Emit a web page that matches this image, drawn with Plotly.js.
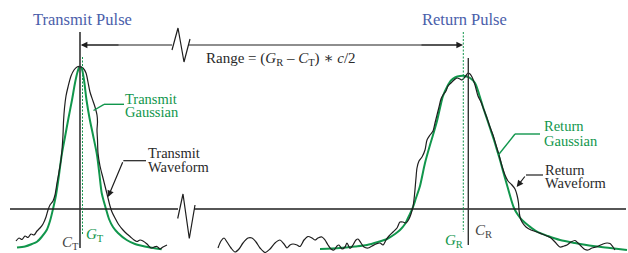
<!DOCTYPE html>
<html>
<head>
<meta charset="utf-8">
<script src="https://cdn.plot.ly/plotly-3.0.1.min.js"></script>
<style>html,body{margin:0;padding:0;background:#fff;}#chart{width:628px;height:253px;}</style>
</head>
<body>
<div id="chart"></div>
<script>
// ---- data (in diagram units: x to the right, y downward) ----
const transmitWaveX = [16,19,22,25,28,31,34,37,40,43,46,48,50,53,55,57,59,61,62,63,63.5,64.5,66,68,71,74,77,80,83,86,88,90,93,95,97,97.5,97,97.5,98,100,103,106,108,110,112,115,119,123,127,130,134,137,140,143,147,151,154,157,160,163,167];
const transmitWaveY = [241,238,239.5,236,237.5,234,235,231,228,224,217,210,205,201,195,183,172,160,150,135,122,108,96,87,76,70,67,66.5,68,73,82,92,101,107,115,122,130,140,153,166,178,190,198,206,212,218,225,230,234,236.5,240,241.5,240,241,244,248,247,246.5,249,247,245];

const transmitGaussX = [17,25,32,37,42,46.7,50,53,56,59,61.7,65,68.5,72,75,77.5,79.5,81.5,84,86.5,89.5,93,97,99.5,101.7,104,106,109,113,118,126.7,135,150,161.7];
const transmitGaussY = [247.5,246.5,244,241.7,236.5,230,221,209,195,175,155,137,118,100,83,72,67,68,80,100,118,135,155,175,193,202,209,219,227,233,240,244,247.5,249.3];

const returnWaveX = [218,221,224,227,231,235,239,243,248,252,256,260,265,270,275,280,284,287,290,293,297,300,304,308,312,315,318,322,325,328,331,334,337,339,342,345,347,350,353,356,358,361,364,368,372,376,380,383,386,389,393,397,400,403,406,409,411,413,414.5,416,417,419,422,425,427,430,433,435,437,439,441,443,446,448,451,454,457,460,462,465,468,470,472,475,478,481,484,487,490,493,496,499,502,505,508,512,515,517,518.5,519,520,522,526,531,537,542,547,551,555,560,564,567,571,575,578,581,585,588,592,597,603,607,610,613,615];
const returnWaveY = [248,241,238,242,248,252,249,243,238,238,242,248,252.5,249,243,240,244,248,245,244,245,246.5,240,236.5,238,240,238,237,240,245,249,250,246,245,249,247,243,248.5,245,240,239,243,247,248,246,244,243,245,240,236,232,228,222,222,223,219,214,207,195,178,168,161,157,150,140,135,131,123,115,107,99,95,91,86,83,80,78,79,80,77,73,74,77,85,96,102,110,118,127,135,145,155,166,175,181,185,189,195,203,210,217,222,227,230,232,234,236,238,242,247,246,245,242,240.5,243,246,249.5,250,248,246.7,244,243,243.5,247,250];

const returnGaussX = [320,340,355,367,378,387,395,400,405,408,413,416,420,425,430,433,437,440,443,447,451,455,460,465,470,475,479,483,487,490,494,497,500,503,507,511,514,518,522,529,537,548,560,575,593,610,627];
const returnGaussY = [249,248,246.5,245,242,239,234,230,224,218,207,198,186,163,145,135,121,108,96,87,80.5,77.5,76,76,78,83,94,107,119,128,140,150,160,171,185,199,208,215,220,226,231.7,236,240,243,246,248,250];

// marker positions (diagram units)
const cT = 80, gT = 82.5, gR = 463.3, cR = 468.3;
const baseY = 209, rangeY = 45;

// ---- styles ----
const GREEN = '#11964c', BLUE = '#4a5eaa', INK = '#1e1e1e', TXT = '#2a2a2a';
const SERIF = '"Liberation Serif", "DejaVu Serif", serif';

const traces = [
  {x: transmitGaussX, y: transmitGaussY, mode: 'lines', line: {color: GREEN, width: 2, shape: 'spline', smoothing: 0.8}, hoverinfo: 'skip'},
  {x: returnGaussX, y: returnGaussY, mode: 'lines', line: {color: GREEN, width: 2, shape: 'spline', smoothing: 0.8}, hoverinfo: 'skip'},
  {x: transmitWaveX, y: transmitWaveY, mode: 'lines', line: {color: INK, width: 1.2, shape: 'spline', smoothing: 0.8}, hoverinfo: 'skip'},
  {x: returnWaveX, y: returnWaveY, mode: 'lines', line: {color: INK, width: 1.2, shape: 'spline', smoothing: 0.8}, hoverinfo: 'skip'}
];

function seg(x0, y0, x1, y1, color, width, dash) {
  return {type: 'line', xref: 'x', yref: 'y', x0, y0, x1, y1, line: {color, width, dash: dash || 'solid'}, layer: 'above'};
}
function path(p, color, width) {
  return {type: 'path', xref: 'x', yref: 'y', path: p, line: {color, width}, layer: 'above'};
}

const shapes = [
  // baseline with break
  seg(10, baseY, 178, baseY, INK, 1.4),
  path('M 177.7,218.5 L 183,194 L 189.3,238.5 L 195,205', INK, 1.2),
  seg(194, baseY, 626, baseY, INK, 1.4),
  // range line with break
  seg(82, rangeY, 172, rangeY, INK, 1.2),
  path('M 172,50 L 178,28 L 184,62 L 190,39', INK, 1.2),
  seg(189, rangeY, 460, rangeY, INK, 1.2),
  // verticals
  seg(cT, 32, cT, 248, '#333', 1.6),
  seg(gT, 57, gT, 234, GREEN, 1, '2px,1.5px'),
  seg(gR, 32, gR, 232, GREEN, 1, '2px,1.5px'),
  seg(cR, 58, cR, 245, '#333', 1.4),
  // leader lines
  seg(104, 104.3, 124, 104.3, GREEN, 1.4),
  seg(104, 104.3, 93.5, 110.5, GREEN, 1.4),
  seg(123.3, 160.7, 146, 160.7, INK, 1.2),
  seg(515, 134, 540, 134, GREEN, 1.4),
  seg(515, 134, 498.3, 155, GREEN, 1.4),
  seg(526, 175, 543, 175, INK, 1.2)
];

function txt(x, y, text, size, color, xanchor) {
  return {x, y, xref: 'x', yref: 'y', text, showarrow: false, xanchor: xanchor || 'left', yanchor: 'middle',
          font: {family: SERIF, size, color}, borderpad: 0};
}
function arrow(x, y, ax, ay, color) {
  return {x, y, ax, ay, xref: 'x', yref: 'y', axref: 'x', ayref: 'y', text: '', showarrow: true,
          arrowhead: 2, arrowsize: 1.1, arrowwidth: 1.2, arrowcolor: color, standoff: 0, startstandoff: 0};
}

const annotations = [
  txt(82, 19, 'Transmit Pulse', 16.5, BLUE, 'center'),
  txt(464, 19, 'Return Pulse', 16.5, BLUE, 'center'),
  txt(205, 58.5, 'Range = (<i>G</i><sub>R</sub> \u2013 <i>C</i><sub>T</sub>) \u2217 <i>c</i>/2', 15, TXT),
  txt(124, 98.7, 'Transmit', 14.5, GREEN),
  txt(124, 111.8, 'Gaussian', 14.5, GREEN),
  txt(147, 152.7, 'Transmit', 14.5, TXT),
  txt(147, 167, 'Waveform', 14.5, TXT),
  txt(543, 125.7, 'Return', 14.5, GREEN),
  txt(543, 141, 'Gaussian', 14.5, GREEN),
  txt(544, 169.5, 'Return', 14.5, TXT),
  txt(544, 183, 'Waveform', 14.5, TXT),
  txt(61, 243, '<i>C</i><sub>T</sub>', 15, '#444'),
  txt(85, 235, '<i>G</i><sub>T</sub>', 15, GREEN),
  txt(444, 241, '<i>G</i><sub>R</sub>', 15, GREEN),
  txt(474, 231, '<i>C</i><sub>R</sub>', 15, '#444'),
  // arrowheads
  arrow(80.8, rangeY, 120, rangeY, INK),
  arrow(463, rangeY, 420, rangeY, INK),
  arrow(108, 197, 123.3, 160.7, INK),
  arrow(516.7, 187, 526, 175, INK)
];

const layout = {
  width: 628, height: 253,
  margin: {l: 0, r: 0, t: 0, b: 0},
  paper_bgcolor: '#fff', plot_bgcolor: '#fff',
  showlegend: false,
  xaxis: {range: [0, 628], visible: false, fixedrange: true},
  yaxis: {range: [253, 0], visible: false, fixedrange: true},
  shapes, annotations
};

Plotly.newPlot('chart', traces, layout, {staticPlot: true, displayModeBar: false});
</script>
</body>
</html>
